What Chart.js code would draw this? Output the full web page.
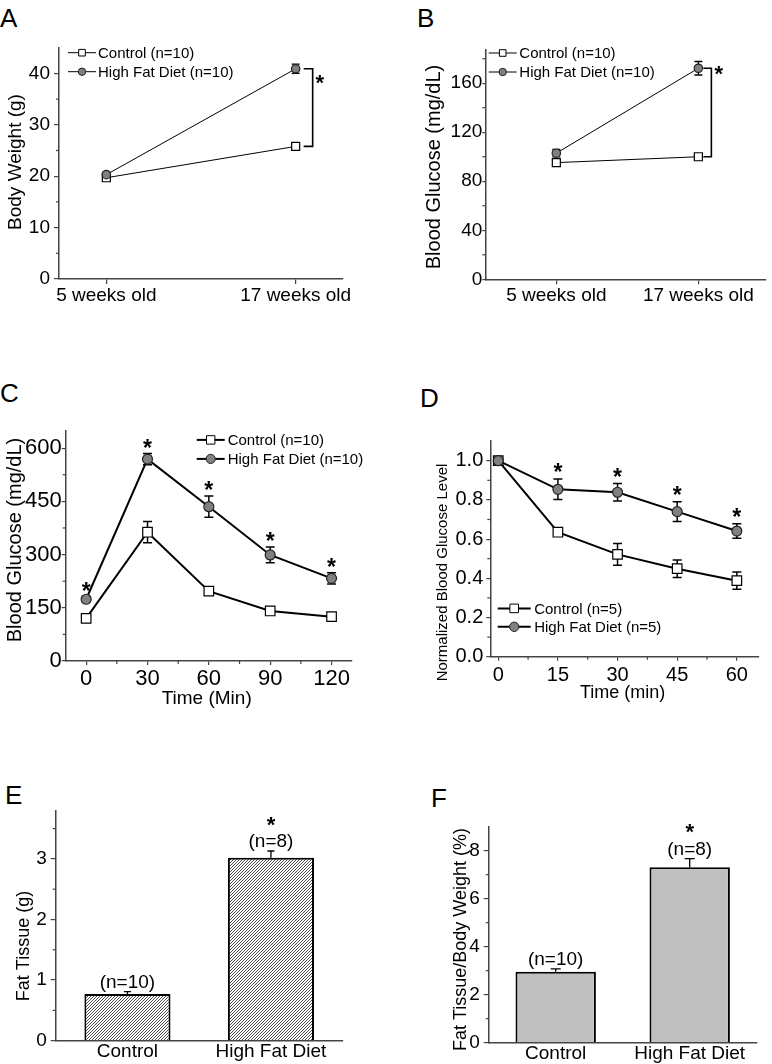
<!DOCTYPE html>
<html>
<head>
<meta charset="utf-8">
<script src="https://cdn.jsdelivr.net/npm/chart.js@4.4.1/dist/chart.umd.min.js"></script>
<style>
body{margin:0;background:#fff;width:772px;height:1064px;position:relative;overflow:hidden;font-family:"Liberation Sans",Arial,sans-serif}
canvas{position:absolute}
.tag{position:absolute;font-size:26px;line-height:1;color:#000}
</style>
</head>
<body>
<div class="tag" style="left:0;top:5px">A</div>
<div class="tag" style="left:417px;top:5px">B</div>
<div class="tag" style="left:0;top:380px">C</div>
<div class="tag" style="left:420px;top:385px">D</div>
<div class="tag" style="left:5px;top:782px">E</div>
<div class="tag" style="left:431px;top:785px">F</div>
<canvas id="cA"></canvas>
<canvas id="cB"></canvas>
<canvas id="cC"></canvas>
<canvas id="cD"></canvas>
<canvas id="cE"></canvas>
<canvas id="cF"></canvas>
<script>
const FONT = '"Liberation Sans", Arial, Helvetica, sans-serif';
const AX = '#444';

// ---- A: body weight ----
const aCats = ['5 weeks old', '17 weeks old'];
const aCtrl = [19.7, 25.8];
const aCtrlErr = [0.4, 0.5];
const aHfd = [20.3, 40.9];
const aHfdErr = [0.5, 0.9];
const aTicksY = [0, 10, 20, 30, 40];
const aMinorY = [5, 15, 25, 35];

// ---- B: fasting blood glucose ----
const bCtrl = [95.2, 100.0];
const bCtrlErr = [2, 2.5];
const bHfd = [102.9, 172.2];
const bHfdErr = [3, 5.5];
const bTicksY = [0, 40, 80, 120, 160];
const bMinorY = [20, 60, 100, 140, 180];

// ---- C: glucose tolerance ----
const cTimes = [0, 30, 60, 90, 120];
const cCtrl = [120, 363, 197, 141, 125];
const cCtrlErr = [6, 30, 6, 6, 5];
const cHfd = [174, 569, 435, 299, 233];
const cHfdErr = [8, 16, 30, 22, 16];
const cTicksY = [0, 150, 300, 450, 600];
const cMinorY = [75, 225, 375, 525];
const cMinorX = [15, 45, 75, 105];

// ---- D: insulin tolerance ----
const dTimes = [0, 15, 30, 45, 60];
const dCtrl = [1.0, 0.635, 0.522, 0.449, 0.388];
const dCtrlErr = [0, 0.01, 0.055, 0.045, 0.044];
const dHfd = [1.0, 0.854, 0.839, 0.74, 0.641];
const dHfdErr = [0, 0.052, 0.045, 0.05, 0.037];
const dTicksY = [0, 0.2, 0.4, 0.6, 0.8, 1.0];
const dMinorY = [0.1, 0.3, 0.5, 0.7, 0.9];
const dMinorX = [7.5, 22.5, 37.5, 52.5];

// ---- E / F: fat tissue ----
const groups = ['Control', 'High Fat Diet'];
const groupN = ['(n=10)', '(n=8)'];
const eVals = [0.77, 3.02];
const eErr = [0.04, 0.11];
const eTicksY = [0, 1, 2, 3];
const eMinorY = [0.5, 1.5, 2.5, 3.5];
const fVals = [2.96, 7.31];
const fErr = [0.12, 0.36];
const fTicksY = [0, 2, 4, 6, 8];
const fMinorY = [1, 3, 5, 7];

Chart.defaults.font.family = FONT;
Chart.defaults.color = '#000';
Chart.defaults.animation = false;
Chart.defaults.responsive = false;
Chart.defaults.devicePixelRatio = 1;
Chart.defaults.events = [];
Chart.defaults.plugins.legend.display = false;
Chart.defaults.plugins.tooltip.enabled = false;

function place(id, left, top, w, h) {
  const c = document.getElementById(id);
  c.width = w; c.height = h;
  c.style.left = left + 'px'; c.style.top = top + 'px';
  return c;
}

function yAxis(o) {
  return {
    type: 'linear', min: o.min, max: o.max,
    afterBuildTicks: s => { s.ticks = o.ticks.map(v => ({value: v})); },
    afterFit: s => { s.width = o.w; },
    ticks: {font: {size: o.size}, padding: o.pad, callback: o.fmt || (v => v)},
    grid: {drawOnChartArea: false, color: AX, tickLength: o.tl, lineWidth: 1.2},
    border: {color: AX, width: 1.5}
  };
}

function xAxis(o) {
  const ax = {
    type: o.type || 'linear',
    afterFit: s => { s.height = o.h; },
    ticks: {font: {size: o.size}, padding: o.pad, maxRotation: 0, minRotation: 0, autoSkip: false},
    grid: {drawOnChartArea: false, color: AX, tickLength: o.tl, lineWidth: 1.2, display: o.tl > 0},
    border: {color: AX, width: 1.5}
  };
  if (ax.type === 'linear') {
    ax.min = o.min; ax.max = o.max;
    ax.afterBuildTicks = s => { s.ticks = o.ticks.map(v => ({value: v})); };
    ax.ticks.callback = o.fmt || (v => v);
  }
  return ax;
}

function marker(ctx, style, x, y, r, fill, stroke) {
  ctx.beginPath();
  if (style === 'rect') ctx.rect(x - r, y - r, 2 * r, 2 * r);
  else ctx.arc(x, y, r, 0, Math.PI * 2);
  ctx.fillStyle = fill; ctx.fill();
  ctx.strokeStyle = stroke; ctx.lineWidth = 1; ctx.stroke();
}

function star(ctx, x, yc, size) {
  ctx.font = 'bold ' + size + 'px ' + FONT;
  ctx.fillStyle = '#000';
  ctx.textAlign = 'center';
  ctx.textBaseline = 'alphabetic';
  ctx.fillText('*', x, yc + 0.58 * size);
}

function label(ctx, s, x, y, size, rot) {
  ctx.save();
  ctx.translate(x, y);
  if (rot) ctx.rotate(-Math.PI / 2);
  ctx.font = size + 'px ' + FONT;
  ctx.fillStyle = '#000';
  ctx.textAlign = 'center';
  ctx.textBaseline = 'middle';
  ctx.fillText(s, 0, 0);
  ctx.restore();
}

function yOf(d) { return (d && d.y !== undefined) ? d.y : d; }

// error bars, minor ticks, legend, axis titles and annotations
function extras(p) {
  return {
    id: 'extras',
    beforeDatasetsDraw(chart) {
      const ctx = chart.ctx, ys = chart.scales.y;
      ctx.save();
      ctx.strokeStyle = '#000';
      ctx.lineWidth = p.errW || 1.3;
      chart.data.datasets.forEach((ds, i) => {
        if (!ds.errors) return;
        chart.getDatasetMeta(i).data.forEach((el, j) => {
          const v = yOf(ds.data[j]), e = ds.errors[j];
          if (!e) return;
          const top = ys.getPixelForValue(v + e);
          const bot = p.errUp ? ys.getPixelForValue(v) : ys.getPixelForValue(v - e);
          const w = p.cap / 2;
          ctx.beginPath();
          ctx.moveTo(el.x, top); ctx.lineTo(el.x, bot);
          ctx.moveTo(el.x - w, top); ctx.lineTo(el.x + w, top);
          if (!p.errUp) { ctx.moveTo(el.x - w, bot); ctx.lineTo(el.x + w, bot); }
          ctx.stroke();
        });
      });
      ctx.restore();
    },
    afterDraw(chart) {
      const ctx = chart.ctx, a = chart.chartArea;
      const xs = chart.scales.x, ys = chart.scales.y;
      ctx.save();
      ctx.strokeStyle = AX; ctx.lineWidth = 1.2;
      (p.minorY || []).forEach(v => {
        const y = ys.getPixelForValue(v);
        ctx.beginPath(); ctx.moveTo(a.left, y); ctx.lineTo(a.left - 3, y); ctx.stroke();
      });
      (p.minorX || []).forEach(v => {
        const x = xs.getPixelForValue(v);
        ctx.beginPath(); ctx.moveTo(x, a.bottom); ctx.lineTo(x, a.bottom + 3); ctx.stroke();
      });
      if (p.legend) {
        const L = p.legend;
        chart.data.datasets.forEach((ds, i) => {
          const x = a.left + L.x, y = a.top + L.y + i * L.dy;
          ctx.strokeStyle = '#000'; ctx.lineWidth = ds.borderWidth;
          ctx.beginPath(); ctx.moveTo(x, y); ctx.lineTo(x + L.len, y); ctx.stroke();
          marker(ctx, ds.pointStyle, x + L.len / 2, y, ds.pointStyle === 'rect' ? L.r : L.r + 0.4,
            ds.pointBackgroundColor, ds.pointBorderColor);
          ctx.font = L.size + 'px ' + FONT;
          ctx.fillStyle = '#000'; ctx.textAlign = 'left'; ctx.textBaseline = 'middle';
          ctx.fillText(ds.label, x + L.len + L.gap, y + 1);
        });
      }
      (p.titles || []).forEach(t => label(ctx, t.text, t.x - p.ox, t.y - p.oy, t.size, t.rot));
      if (p.marks) p.marks(chart, ctx, xs, ys);
      ctx.restore();
    }
  };
}

function lineSet(lbl, xsArr, vals, errs, ctrl, bw, r) {
  return {
    label: lbl,
    data: xsArr.map((x, i) => ({x: x, y: vals[i]})),
    errors: errs,
    borderColor: '#000', borderWidth: bw,
    pointStyle: ctrl ? 'rect' : 'circle',
    pointRadius: ctrl ? r * 1.35 : r,
    pointBackgroundColor: ctrl ? '#fff' : '#808080',
    pointBorderColor: ctrl ? '#000' : '#222',
    pointBorderWidth: 1.2,
    order: ctrl ? 1 : 0,
    tension: 0, fill: false, clip: false
  };
}

function bracket(ctx, x, y1, y2, len) {
  ctx.strokeStyle = '#000'; ctx.lineWidth = 1.6;
  ctx.beginPath();
  ctx.moveTo(x - len, y1); ctx.lineTo(x, y1); ctx.lineTo(x, y2); ctx.lineTo(x - len, y2);
  ctx.stroke();
}

// ---------- A ----------
place('cA', 0, 0, 386, 320);
new Chart('cA', {
  type: 'line',
  data: {datasets: [
    lineSet('Control (n=10)', [0, 1], aCtrl, aCtrlErr, true, 1, 4.2),
    lineSet('High Fat Diet (n=10)', [0, 1], aHfd, aHfdErr, false, 1, 4.2)
  ]},
  options: {
    layout: {padding: {left: 0, top: 47.7, right: 43, bottom: 11}},
    scales: {
      x: xAxis({min: -0.25, max: 1.25, ticks: [0, 1], fmt: v => aCats[v], size: 19, tl: 5, pad: 0, h: 30}),
      y: yAxis({min: 0, max: 45, ticks: aTicksY, size: 19, tl: 5, pad: 4, w: 59})
    }
  },
  plugins: [extras({
    ox: 0, oy: 0, cap: 8, minorY: aMinorY,
    legend: {x: 9, y: 5, dy: 19, len: 28, gap: 2, r: 3.3, size: 15},
    titles: [{text: 'Body Weight (g)', x: 15.5, y: 162, size: 19, rot: true}],
    marks(chart, ctx, xs, ys) {
      const bx = xs.getPixelForValue(1) + 17;
      const y1 = ys.getPixelForValue(aHfd[1]), y2 = ys.getPixelForValue(aCtrl[1]);
      bracket(ctx, bx, y1, y2, 9);
      star(ctx, bx + 7, y1 + 8, 22);
    }
  })]
});

// ---------- B ----------
place('cB', 386, 0, 386, 320);
new Chart('cB', {
  type: 'line',
  data: {datasets: [
    lineSet('Control (n=10)', [0, 1], bCtrl, bCtrlErr, true, 1, 4.2),
    lineSet('High Fat Diet (n=10)', [0, 1], bHfd, bHfdErr, false, 1, 4.2)
  ]},
  options: {
    layout: {padding: {left: 0, top: 49.5, right: 6, bottom: 10.7}},
    scales: {
      x: xAxis({min: -0.5, max: 1.47, ticks: [0, 1], fmt: v => aCats[v], size: 19, tl: 5, pad: 0, h: 30}),
      y: yAxis({min: 0, max: 187.5, ticks: bTicksY, size: 19, tl: 3, pad: 0, w: 99.3})
    }
  },
  plugins: [extras({
    ox: 386, oy: 0, cap: 8, minorY: bMinorY,
    legend: {x: 3.4, y: 3.5, dy: 19, len: 28, gap: 2.6, r: 3.3, size: 15},
    titles: [{text: 'Blood Glucose (mg/dL)', x: 434, y: 167, size: 20, rot: true}],
    marks(chart, ctx, xs, ys) {
      const bx = xs.getPixelForValue(1) + 13;
      const y1 = ys.getPixelForValue(bHfd[1]), y2 = ys.getPixelForValue(bCtrl[1]);
      bracket(ctx, bx, y1, y2, 8);
      star(ctx, bx + 7.5, y1, 22);
    }
  })]
});

// ---------- C ----------
place('cC', 0, 370, 386, 350);
new Chart('cC', {
  type: 'line',
  data: {datasets: [
    lineSet('Control (n=10)', cTimes, cCtrl, cCtrlErr, true, 2, 5),
    lineSet('High Fat Diet (n=10)', cTimes, cHfd, cHfdErr, false, 2, 5)
  ]},
  options: {
    layout: {padding: {left: 0, top: 60.4, right: 34, bottom: 29}},
    scales: {
      x: xAxis({min: -10, max: 130, ticks: cTimes, size: 22, tl: 4, pad: 1, h: 30}),
      y: yAxis({min: 0, max: 650, ticks: cTicksY, size: 22, tl: 4, pad: 0, w: 65.7})
    }
  },
  plugins: [extras({
    ox: 0, oy: 370, cap: 9, errW: 1.5, minorY: cMinorY, minorX: cMinorX,
    legend: {x: 131, y: 9.5, dy: 19, len: 28, gap: 3, r: 4.2, size: 15},
    titles: [
      {text: 'Blood Glucose (mg/dL)', x: 15, y: 540, size: 20, rot: true},
      {text: 'Time (Min)', x: 206.7, y: 699, size: 19}
    ],
    marks(chart, ctx, xs, ys) {
      cTimes.forEach((t, i) => star(ctx, xs.getPixelForValue(t), ys.getPixelForValue(cHfd[i] + cHfdErr[i]) - 11, 23));
    }
  })]
});

// ---------- D ----------
place('cD', 386, 370, 386, 350);
new Chart('cD', {
  type: 'line',
  data: {datasets: [
    lineSet('Control (n=5)', dTimes, dCtrl, dCtrlErr, true, 2, 5),
    lineSet('High Fat Diet (n=5)', dTimes, dHfd, dHfdErr, false, 2, 5)
  ]},
  options: {
    layout: {padding: {left: 0, top: 71.1, right: 13.3, bottom: 33.3}},
    scales: {
      x: xAxis({min: -2, max: 65.5, ticks: dTimes, size: 20, tl: 4, pad: 3, h: 30}),
      y: yAxis({min: 0, max: 1.1, ticks: dTicksY, size: 20, tl: 4, pad: 3, w: 104.3, fmt: v => v.toFixed(1)})
    }
  },
  plugins: [extras({
    ox: 386, oy: 370, cap: 9, errW: 1.5, minorY: dMinorY, minorX: dMinorX,
    legend: {x: 7.4, y: 167.3, dy: 18.4, len: 33, gap: 3.5, r: 4.3, size: 15},
    titles: [
      {text: 'Normalized Blood Glucose Level', x: 442.7, y: 572.5, size: 15, rot: true},
      {text: 'Time (min)', x: 622.7, y: 693, size: 18}
    ],
    marks(chart, ctx, xs, ys) {
      dTimes.forEach((t, i) => {
        if (i === 0) return;
        star(ctx, xs.getPixelForValue(t), ys.getPixelForValue(dHfd[i] + dHfdErr[i]) - 12, 23);
      });
    }
  })]
});

// ---------- E ----------
function hatch() {
  const c = document.createElement('canvas');
  c.width = 3; c.height = 3;
  const g = c.getContext('2d');
  g.fillStyle = '#fff'; g.fillRect(0, 0, 3, 3);
  g.strokeStyle = '#3a3a3a'; g.lineWidth = 0.9;
  g.beginPath();
  g.moveTo(0, 3); g.lineTo(3, 0);
  g.moveTo(-1, 1); g.lineTo(1, -1);
  g.moveTo(2, 4); g.lineTo(4, 2);
  g.stroke();
  return g.createPattern(c, 'repeat');
}

function barMarks(vals, errs) {
  return function (chart, ctx, xs, ys) {
    vals.forEach((v, i) => {
      const x = xs.getPixelForValue(i), top = ys.getPixelForValue(v + errs[i]);
      label(ctx, groupN[i], x, top - 9, 19);
      if (i === 1) star(ctx, x, top - 32, 22);
    });
  };
}

place('cE', 0, 760, 386, 304);
new Chart('cE', {
  type: 'bar',
  data: {labels: groups, datasets: [{
    data: eVals, errors: eErr,
    backgroundColor: hatch(), borderColor: '#000', borderWidth: 2,
    barPercentage: 0.6, categoryPercentage: 1
  }]},
  options: {
    layout: {padding: {left: 0, top: 50.4, right: 43.3, bottom: 0}},
    scales: {
      x: xAxis({type: 'category', size: 19, tl: 0, pad: 0, h: 23.3}),
      y: yAxis({min: 0, max: 3.8, ticks: eTicksY, size: 19, tl: 5, pad: 4, w: 55.7})
    }
  },
  plugins: [extras({
    ox: 0, oy: 760, cap: 7, errUp: true, minorY: eMinorY,
    titles: [{text: 'Fat Tissue (g)', x: 24, y: 946, size: 18, rot: true}],
    marks: barMarks(eVals, eErr)
  })]
});

// ---------- F ----------
place('cF', 386, 760, 386, 304);
new Chart('cF', {
  type: 'bar',
  data: {labels: groups, datasets: [{
    data: fVals, errors: fErr,
    backgroundColor: '#c0c0c0', borderColor: '#000', borderWidth: 2,
    barPercentage: 0.6, categoryPercentage: 1
  }]},
  options: {
    layout: {padding: {left: 0, top: 66.7, right: 15.3, bottom: 0}},
    scales: {
      x: xAxis({type: 'category', size: 19, tl: 0, pad: 0, h: 21.3}),
      y: yAxis({min: 0, max: 9, ticks: fTicksY, size: 19, tl: 5, pad: 4, w: 102.7})
    }
  },
  plugins: [extras({
    ox: 386, oy: 760, cap: 10, errUp: true, minorY: fMinorY,
    titles: [{text: 'Fat Tissue/Body Weight (%)', x: 461, y: 939.5, size: 18, rot: true}],
    marks: barMarks(fVals, fErr)
  })]
});
</script>
</body>
</html>
